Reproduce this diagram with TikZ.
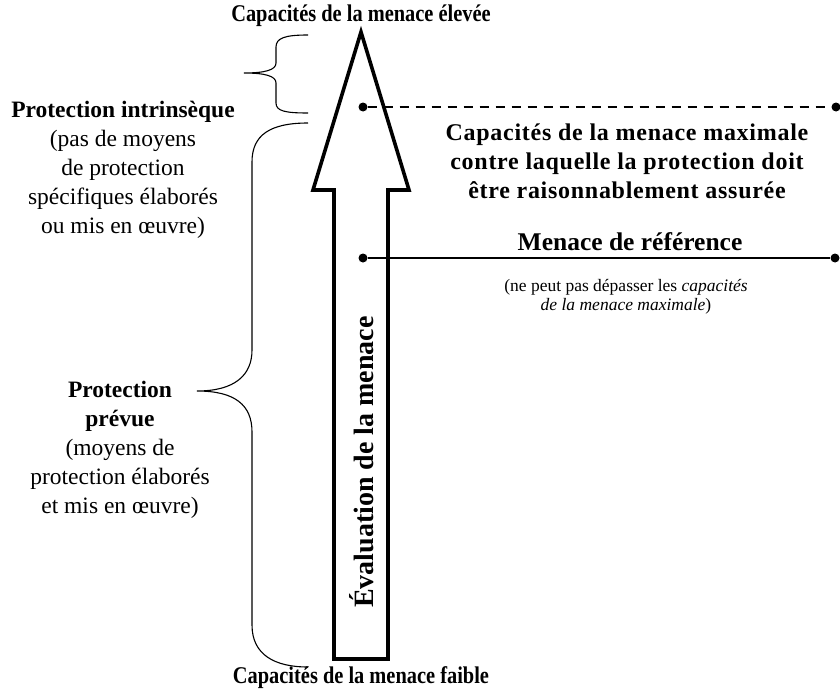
\documentclass[tikz,border=0pt]{standalone}
\usepackage{fontspec}
\setmainfont{Liberation Serif}
\usepackage{tikz}
\usetikzlibrary{positioning,arrows.meta}

\begin{document}
\begin{tikzpicture}[
        x=1pt, y=-1pt,
        titre/.style={font=\fontsize{24}{28}\selectfont\bfseries\addfontfeature{FakeStretch=0.85}, align=center},
        gauche/.style={font=\fontsize{23.5}{29}\selectfont, align=center},
        droite/.style={font=\fontsize{24}{29}\selectfont\bfseries\addfontfeature{LetterSpace=3}, align=center},
        petit/.style={font=\fontsize{17.5}{19.5}\selectfont, align=center},
        point/.style={circle, fill, inner sep=0pt, minimum size=9pt},
        accolade/.style={line width=1.1pt}
    ]
    \useasboundingbox (0,0) rectangle (840,693);

    % Flèche
    \draw[line width=3.6pt, line join=miter] (361,32) -- (409,190) -- (388,190) -- (388,659)
        -- (334,659) -- (334,190) -- (313,190) -- cycle;
    \node[rotate=90, font=\fontsize{28}{32}\selectfont\bfseries] (evaluation) at (362,462) {Évaluation de la menace};

    % Nœuds
    \node[titre] (haut) at (361,16)  {Capacités de la menace élevée};
    \node[titre] (bas)  at (361,678) {Capacités de la menace faible};
    \node[gauche] (intrinseque) at (123,170) {\textbf{Protection intrinsèque}\\(pas de moyens\\de protection\\spécifiques élaborés\\ou mis en œuvre)};
    \node[gauche] (prevue) at (120,450) {\textbf{Protection}\\\textbf{prévue}\\(moyens de\\protection élaborés\\et mis en œuvre)};
    \node[droite] (maximale) at (627,161) {Capacités de la menace maximale\\contre laquelle la protection doit\\être raisonnablement assurée};
    \node[font=\fontsize{25.5}{29}\selectfont\bfseries] (reference) at (630,242) {Menace de référence};
    \node[petit] (remarque) at (626,297) {(ne peut pas dépasser les \textit{capacités}\\\textit{de la menace maximale})};

    \node[point] (maxA) at (363,107) {};
    \node[point] (maxB) at (836,107) {};
    \node[point] (refA) at (363,258) {};
    \node[point] (refB) at (835,258) {};

    % Lignes
    \draw[line width=2.8pt, dash pattern=on 9pt off 7pt] (maxA) -- (maxB);
    \draw[line width=2.8pt] (refA) -- (refB);

    % Accolades
    \draw[accolade] (308,35) .. controls (285,35) and (276,38) .. (276,47) -- (276,63)
        .. controls (276,70) and (265,73) .. (244,73)
        .. controls (265,73) and (276,76) .. (276,83) -- (276,103)
        .. controls (276,111) and (285,113) .. (308,113);
    \draw[accolade] (308,123) .. controls (270,123) and (252,135) .. (252,162) -- (252,350)
        .. controls (252,375) and (235,391) .. (197,391)
        .. controls (235,391) and (252,405) .. (252,432) -- (252,625)
        .. controls (252,655) and (275,667) .. (308,667);
\end{tikzpicture}
\end{document}
